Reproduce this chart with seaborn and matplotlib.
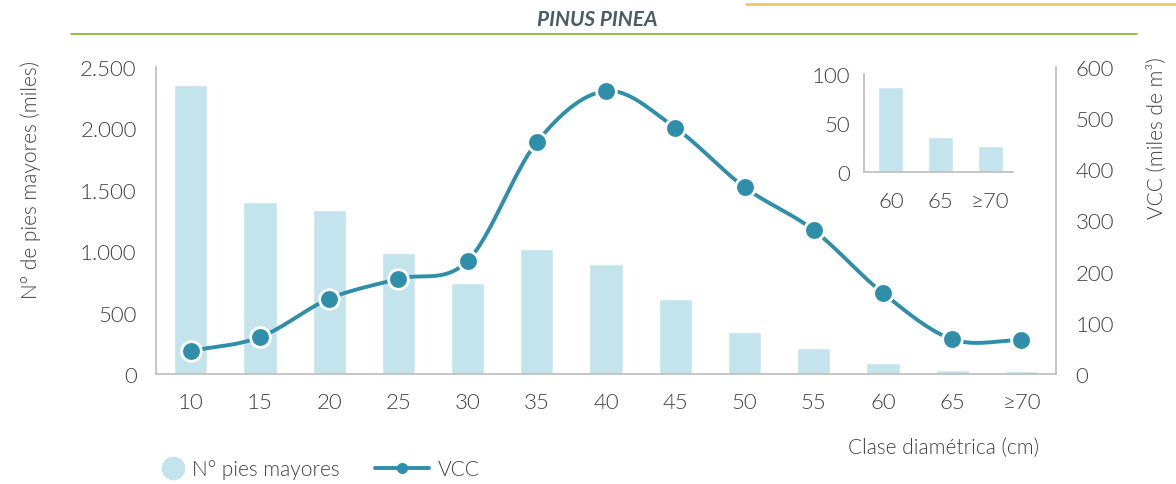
import matplotlib
matplotlib.use("Agg")
import matplotlib.pyplot as plt
import numpy as np
import pandas as pd
import seaborn as sns
from matplotlib.lines import Line2D
from matplotlib.ticker import FuncFormatter

clases = ["10", "15", "20", "25", "30", "35", "40", "45", "50", "55", "60", "65", "≥70"]
pies_mayores = [2350, 1400, 1335, 985, 740, 1018, 896, 611, 342, 212, 88, 36, 27]
vcc = [45, 72, 147, 186, 221, 453, 553, 481, 365, 281, 158, 68, 66]

inset_clases = ["60", "65", "≥70"]
inset_pies = [87, 36, 27]

BAR = "#c4e4ed"
LINE = "#2f8fab"
TXT = "#404040"
SPINE = "#bfbfbf"
TICK_FS = 16
LABEL_FS = 15


def catmull_rom(y, n=30):
    # smooth curve through the points (Excel "smoothed line" look)
    y = np.asarray(y, dtype=float)
    p = np.concatenate([[2 * y[0] - y[1]], y, [2 * y[-1] - y[-2]]])
    xs, ys = [], []
    for i in range(len(y) - 1):
        t = np.linspace(0, 1, n, endpoint=False)
        p0, p1, p2, p3 = p[i], p[i + 1], p[i + 2], p[i + 3]
        seg = 0.5 * ((2 * p1) + (-p0 + p2) * t + (2 * p0 - 5 * p1 + 4 * p2 - p3) * t ** 2
                     + (-p0 + 3 * p1 - 3 * p2 + p3) * t ** 3)
        xs.append(i + t)
        ys.append(seg)
    xs.append([len(y) - 1])
    ys.append([y[-1]])
    return np.concatenate(xs), np.concatenate(ys)


def main() -> None:
    sns.set_theme(style="white")
    plt.rcParams["font.family"] = ["Lato", "DejaVu Sans"]
    plt.rcParams["font.weight"] = 300
    plt.rcParams["text.color"] = TXT
    plt.rcParams["axes.labelcolor"] = TXT
    plt.rcParams["axes.labelweight"] = 300
    plt.rcParams["xtick.color"] = TXT
    plt.rcParams["ytick.color"] = TXT

    fig = plt.figure(figsize=(11.76, 4.85), dpi=100)
    ax = fig.add_axes([0.1327, 0.2268, 0.7653, 0.633])

    df = pd.DataFrame({"clase": clases, "pies": pies_mayores, "vcc": vcc})
    sns.barplot(data=df, x="clase", y="pies", color=BAR, width=0.48, saturation=1, ax=ax)
    ax.set_xlim(-0.5, len(clases) - 0.5)
    ax.set_ylim(0, 2500)
    ax.set_yticks([0, 500, 1000, 1500, 2000, 2500])
    ax.yaxis.set_major_formatter(FuncFormatter(lambda v, _: f"{int(v):,}".replace(",", ".")))
    ax.tick_params(axis="y", labelsize=TICK_FS, length=0, pad=14)
    ax.tick_params(axis="x", labelsize=TICK_FS, length=0, pad=13)
    ax.set_xlabel("")
    ax.set_ylabel("N° de pies mayores (miles)", fontsize=LABEL_FS)
    ax.yaxis.set_label_coords(-0.128, 0.635)
    for s in ["top", "right"]:
        ax.spines[s].set_visible(False)
    ax.spines["left"].set_color(SPINE)
    ax.spines["bottom"].set_color(SPINE)

    ax2 = ax.twinx()
    sx, sy = catmull_rom(vcc)
    ax2.plot(sx, sy, color=LINE, linewidth=2.8, zorder=3)
    sns.scatterplot(x=np.arange(len(vcc)), y=vcc, ax=ax2, s=200, color=LINE,
                    edgecolor="white", linewidth=2, zorder=4)
    ax2.set_ylim(0, 600)
    ax2.set_yticks([0, 100, 200, 300, 400, 500, 600])
    ax2.tick_params(axis="y", labelsize=TICK_FS, length=0, pad=14)
    ax2.set_ylabel("VCC (miles de m³)", fontsize=LABEL_FS)
    ax2.yaxis.set_label_coords(1.1, 0.772)
    for s in ["top", "left", "bottom"]:
        ax2.spines[s].set_visible(False)
    ax2.spines["right"].set_color(SPINE)

    # inset with the largest classes
    axi = fig.add_axes([0.7347, 0.6433, 0.1267, 0.202])
    sns.barplot(x=inset_clases, y=inset_pies, color=BAR, width=0.5, saturation=1, ax=axi)
    axi.set_xlim(-0.54, 2.46)
    axi.set_ylim(0, 100)
    axi.set_yticks([0, 50, 100])
    axi.tick_params(axis="y", labelsize=TICK_FS, length=0, pad=10)
    axi.tick_params(axis="x", labelsize=TICK_FS, length=0, pad=14)
    for s in ["top", "right"]:
        axi.spines[s].set_visible(False)
    axi.spines["left"].set_color(SPINE)
    axi.spines["bottom"].set_color(SPINE)
    axi.patch.set_alpha(0)

    fig.text(0.802, 0.077, "Clase diamétrica (cm)", fontsize=LABEL_FS, ha="center", va="center")
    fig.text(0.508, 0.958, "PINUS PINEA", fontsize=15, ha="center", va="center",
             fontweight="bold", fontstyle="italic", color="#4a5c66")
    fig.add_artist(Line2D([0.0604, 0.9668], [0.928, 0.928], color="#8db53c", linewidth=1.3))
    fig.add_artist(Line2D([0.634, 1.0], [0.99, 0.99], color="#f0cb62", linewidth=2))

    # two separate legend entries so each handle keeps its own length
    leg_kw = dict(loc="center left", frameon=False, fontsize=LABEL_FS,
                  borderaxespad=0, borderpad=0, handletextpad=0.4)
    fig.legend([Line2D([], [], linestyle="none", marker="o", markersize=16, color=BAR)],
               ["N° pies mayores"], bbox_to_anchor=(0.1386, 0.03), handlelength=1.0, **leg_kw)
    fig.legend([Line2D([], [], color=LINE, linewidth=2.8, marker="o", markersize=7)],
               ["VCC"], bbox_to_anchor=(0.3189, 0.03), handlelength=2.6, **leg_kw)

    fig.savefig("out.png", dpi=100)
    plt.close(fig)


if __name__ == "__main__":
    main()
